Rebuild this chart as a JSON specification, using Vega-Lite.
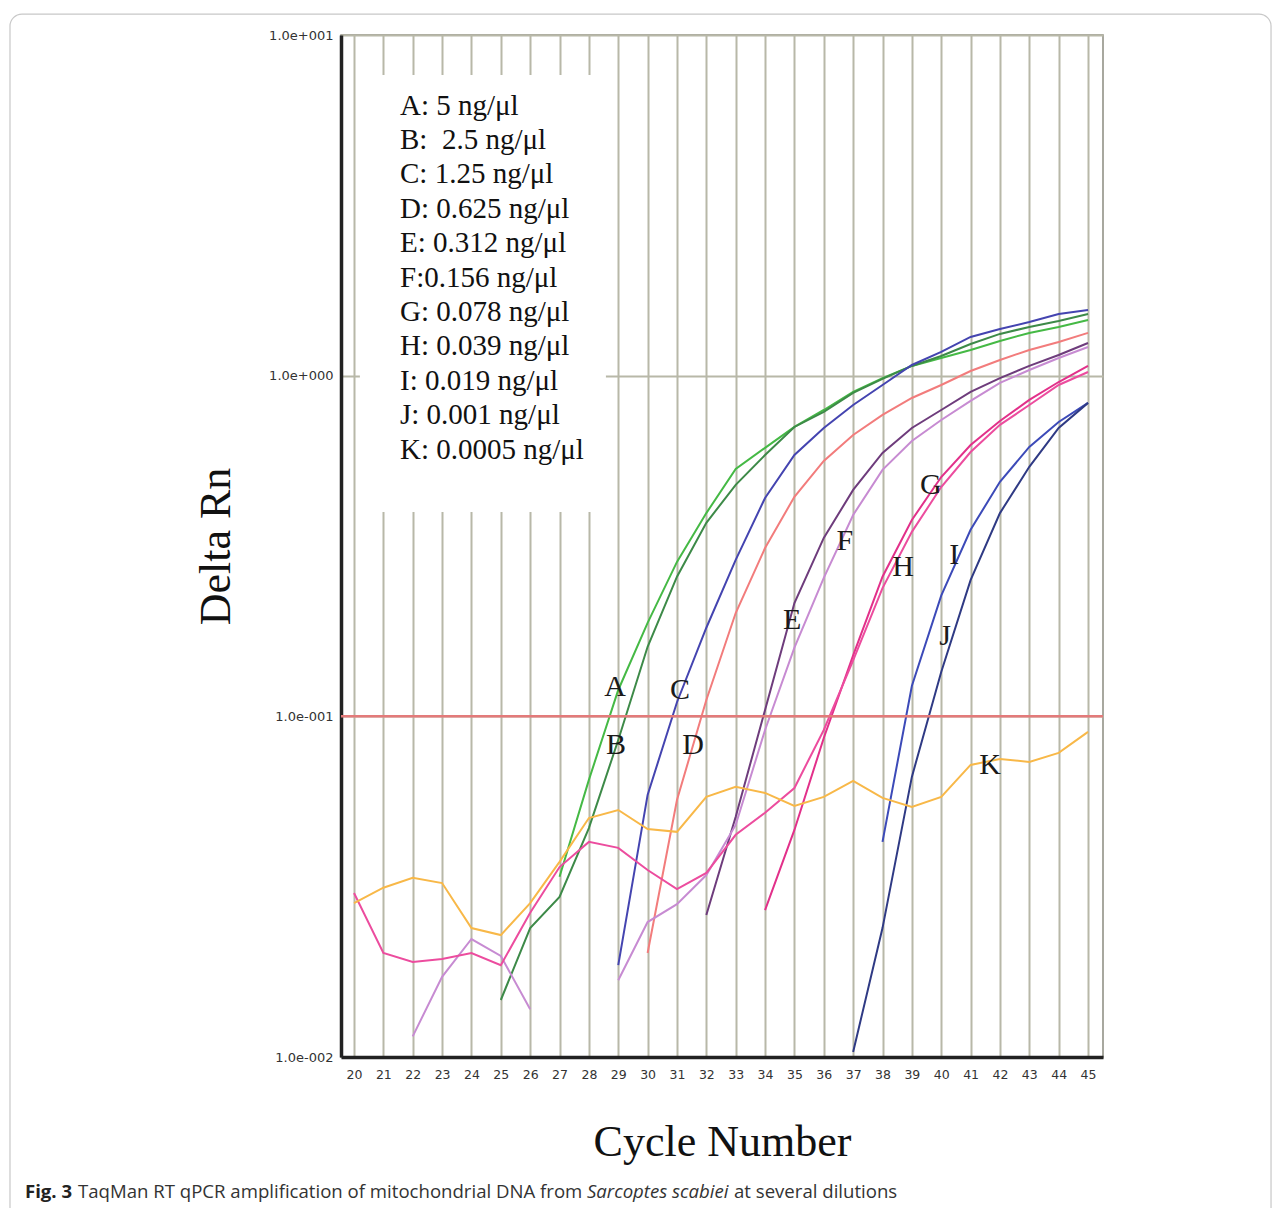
{
  "$schema": "https://vega.github.io/schema/vega-lite/v6.json",
  "width": 762,
  "height": 1022,
  "autosize": {"type": "none"},
  "padding": {"left": 341, "top": 35, "right": 178, "bottom": 151},
  "background": "white",
  "config": {
    "view": {"stroke": "#8c8c80", "strokeWidth": 1.5},
    "axis": {
      "grid": false, "gridColor": "#b8b8a8", "gridWidth": 2, "gridOpacity": 1,
      "ticks": false, "domainColor": "#222222", "domainWidth": 3.5,
      "labelFont": "DejaVu Sans", "labelColor": "#333333", "labelOverlap": false,
      "titleFont": "Liberation Serif", "titleFontSize": 44, "titleFontWeight": "normal", "titleColor": "#111111"
    },
    "axisX": {"labelFontSize": 12.5, "labelPadding": 11, "titlePadding": 40},
    "axisY": {"labelFontSize": 13, "labelPadding": 8, "titlePadding": 30}
  },
  "datasets": {
    "one": [{}],
    "samples": [
      {"s": "A", "label": "A: 5 ng/μl"},
      {"s": "B", "label": "B: \u00a02.5 ng/μl"},
      {"s": "C", "label": "C: 1.25 ng/μl"},
      {"s": "D", "label": "D: 0.625 ng/μl"},
      {"s": "E", "label": "E: 0.312 ng/μl"},
      {"s": "F", "label": "F:0.156 ng/μl"},
      {"s": "G", "label": "G: 0.078 ng/μl"},
      {"s": "H", "label": "H: 0.039 ng/μl"},
      {"s": "I", "label": "I: 0.019 ng/μl"},
      {"s": "J", "label": "J: 0.001 ng/μl"},
      {"s": "K", "label": "K: 0.0005 ng/μl"}
    ],
    "letters": [
      {"t": "A", "c": 28.89, "v": 0.122},
      {"t": "B", "c": 28.92, "v": 0.0824},
      {"t": "C", "c": 31.1, "v": 0.1195},
      {"t": "D", "c": 31.55, "v": 0.0824},
      {"t": "E", "c": 34.92, "v": 0.1918},
      {"t": "F", "c": 36.72, "v": 0.3272},
      {"t": "G", "c": 39.65, "v": 0.4778},
      {"t": "H", "c": 38.7, "v": 0.2745},
      {"t": "I", "c": 40.44, "v": 0.2977},
      {"t": "J", "c": 40.13, "v": 0.1722},
      {"t": "K", "c": 41.66, "v": 0.072}
    ],
    "curves": [
      {"s": "A", "g": "A", "c": 27, "v": 0.0338}, {"s": "A", "g": "A", "c": 28, "v": 0.0651}, {"s": "A", "g": "A", "c": 29, "v": 0.1195}, {"s": "A", "g": "A", "c": 30, "v": 0.188}, {"s": "A", "g": "A", "c": 31, "v": 0.284}, {"s": "A", "g": "A", "c": 32, "v": 0.395}, {"s": "A", "g": "A", "c": 33, "v": 0.532}, {"s": "A", "g": "A", "c": 34, "v": 0.614}, {"s": "A", "g": "A", "c": 35, "v": 0.707}, {"s": "A", "g": "A", "c": 36, "v": 0.793}, {"s": "A", "g": "A", "c": 37, "v": 0.896}, {"s": "A", "g": "A", "c": 38, "v": 0.984}, {"s": "A", "g": "A", "c": 39, "v": 1.068}, {"s": "A", "g": "A", "c": 40, "v": 1.127}, {"s": "A", "g": "A", "c": 41, "v": 1.19}, {"s": "A", "g": "A", "c": 42, "v": 1.264}, {"s": "A", "g": "A", "c": 43, "v": 1.335}, {"s": "A", "g": "A", "c": 44, "v": 1.39}, {"s": "A", "g": "A", "c": 45, "v": 1.457},
      {"s": "B", "g": "B", "c": 25, "v": 0.0147}, {"s": "B", "g": "B", "c": 26, "v": 0.0239}, {"s": "B", "g": "B", "c": 27, "v": 0.0295}, {"s": "B", "g": "B", "c": 28, "v": 0.047}, {"s": "B", "g": "B", "c": 29, "v": 0.0852}, {"s": "B", "g": "B", "c": 30, "v": 0.16}, {"s": "B", "g": "B", "c": 31, "v": 0.257}, {"s": "B", "g": "B", "c": 32, "v": 0.37}, {"s": "B", "g": "B", "c": 33, "v": 0.478}, {"s": "B", "g": "B", "c": 34, "v": 0.585}, {"s": "B", "g": "B", "c": 35, "v": 0.707}, {"s": "B", "g": "B", "c": 36, "v": 0.783}, {"s": "B", "g": "B", "c": 37, "v": 0.89}, {"s": "B", "g": "B", "c": 38, "v": 0.978}, {"s": "B", "g": "B", "c": 39, "v": 1.068}, {"s": "B", "g": "B", "c": 40, "v": 1.142}, {"s": "B", "g": "B", "c": 41, "v": 1.239}, {"s": "B", "g": "B", "c": 42, "v": 1.326}, {"s": "B", "g": "B", "c": 43, "v": 1.39}, {"s": "B", "g": "B", "c": 44, "v": 1.447}, {"s": "B", "g": "B", "c": 45, "v": 1.518},
      {"s": "C", "g": "C", "c": 29, "v": 0.0186}, {"s": "C", "g": "C", "c": 30, "v": 0.0588}, {"s": "C", "g": "C", "c": 31, "v": 0.11}, {"s": "C", "g": "C", "c": 32, "v": 0.182}, {"s": "C", "g": "C", "c": 33, "v": 0.288}, {"s": "C", "g": "C", "c": 34, "v": 0.4375}, {"s": "C", "g": "C", "c": 35, "v": 0.585}, {"s": "C", "g": "C", "c": 36, "v": 0.702}, {"s": "C", "g": "C", "c": 37, "v": 0.82}, {"s": "C", "g": "C", "c": 38, "v": 0.939}, {"s": "C", "g": "C", "c": 39, "v": 1.075}, {"s": "C", "g": "C", "c": 40, "v": 1.174}, {"s": "C", "g": "C", "c": 41, "v": 1.299}, {"s": "C", "g": "C", "c": 42, "v": 1.371}, {"s": "C", "g": "C", "c": 43, "v": 1.437}, {"s": "C", "g": "C", "c": 44, "v": 1.518}, {"s": "C", "g": "C", "c": 45, "v": 1.559},
      {"s": "D", "g": "D", "c": 30, "v": 0.0202}, {"s": "D", "g": "D", "c": 31, "v": 0.0568}, {"s": "D", "g": "D", "c": 32, "v": 0.1117}, {"s": "D", "g": "D", "c": 33, "v": 0.201}, {"s": "D", "g": "D", "c": 34, "v": 0.312}, {"s": "D", "g": "D", "c": 35, "v": 0.441}, {"s": "D", "g": "D", "c": 36, "v": 0.562}, {"s": "D", "g": "D", "c": 37, "v": 0.67}, {"s": "D", "g": "D", "c": 38, "v": 0.767}, {"s": "D", "g": "D", "c": 39, "v": 0.86}, {"s": "D", "g": "D", "c": 40, "v": 0.939}, {"s": "D", "g": "D", "c": 41, "v": 1.032}, {"s": "D", "g": "D", "c": 42, "v": 1.112}, {"s": "D", "g": "D", "c": 43, "v": 1.19}, {"s": "D", "g": "D", "c": 44, "v": 1.256}, {"s": "D", "g": "D", "c": 45, "v": 1.335},
      {"s": "E", "g": "E", "c": 32, "v": 0.0261}, {"s": "E", "g": "E", "c": 33, "v": 0.0507}, {"s": "E", "g": "E", "c": 34, "v": 0.1044}, {"s": "E", "g": "E", "c": 35, "v": 0.215}, {"s": "E", "g": "E", "c": 36, "v": 0.334}, {"s": "E", "g": "E", "c": 37, "v": 0.462}, {"s": "E", "g": "E", "c": 38, "v": 0.593}, {"s": "E", "g": "E", "c": 39, "v": 0.702}, {"s": "E", "g": "E", "c": 40, "v": 0.793}, {"s": "E", "g": "E", "c": 41, "v": 0.896}, {"s": "E", "g": "E", "c": 42, "v": 0.984}, {"s": "E", "g": "E", "c": 43, "v": 1.068}, {"s": "E", "g": "E", "c": 44, "v": 1.15}, {"s": "E", "g": "E", "c": 45, "v": 1.247},
      {"s": "F", "g": "F0", "c": 22, "v": 0.0115}, {"s": "F", "g": "F0", "c": 23, "v": 0.0172}, {"s": "F", "g": "F0", "c": 24, "v": 0.0222}, {"s": "F", "g": "F0", "c": 25, "v": 0.0198}, {"s": "F", "g": "F0", "c": 26, "v": 0.0138},
      {"s": "F", "g": "F", "c": 29, "v": 0.0168}, {"s": "F", "g": "F", "c": 30, "v": 0.0249}, {"s": "F", "g": "F", "c": 31, "v": 0.0281}, {"s": "F", "g": "F", "c": 32, "v": 0.0342}, {"s": "F", "g": "F", "c": 33, "v": 0.048}, {"s": "F", "g": "F", "c": 34, "v": 0.0912}, {"s": "F", "g": "F", "c": 35, "v": 0.159}, {"s": "F", "g": "F", "c": 36, "v": 0.255}, {"s": "F", "g": "F", "c": 37, "v": 0.39}, {"s": "F", "g": "F", "c": 38, "v": 0.529}, {"s": "F", "g": "F", "c": 39, "v": 0.643}, {"s": "F", "g": "F", "c": 40, "v": 0.741}, {"s": "F", "g": "F", "c": 41, "v": 0.843}, {"s": "F", "g": "F", "c": 42, "v": 0.952}, {"s": "F", "g": "F", "c": 43, "v": 1.039}, {"s": "F", "g": "F", "c": 44, "v": 1.127}, {"s": "F", "g": "F", "c": 45, "v": 1.214},
      {"s": "G", "g": "G", "c": 34, "v": 0.027}, {"s": "G", "g": "G", "c": 35, "v": 0.0464}, {"s": "G", "g": "G", "c": 36, "v": 0.0864}, {"s": "G", "g": "G", "c": 37, "v": 0.151}, {"s": "G", "g": "G", "c": 38, "v": 0.257}, {"s": "G", "g": "G", "c": 39, "v": 0.377}, {"s": "G", "g": "G", "c": 40, "v": 0.504}, {"s": "G", "g": "G", "c": 41, "v": 0.626}, {"s": "G", "g": "G", "c": 42, "v": 0.736}, {"s": "G", "g": "G", "c": 43, "v": 0.849}, {"s": "G", "g": "G", "c": 44, "v": 0.958}, {"s": "G", "g": "G", "c": 45, "v": 1.068},
      {"s": "H", "g": "H", "c": 20, "v": 0.0303}, {"s": "H", "g": "H", "c": 21, "v": 0.0202}, {"s": "H", "g": "H", "c": 22, "v": 0.019}, {"s": "H", "g": "H", "c": 23, "v": 0.0194}, {"s": "H", "g": "H", "c": 24, "v": 0.0202}, {"s": "H", "g": "H", "c": 25, "v": 0.0186}, {"s": "H", "g": "H", "c": 26, "v": 0.0265}, {"s": "H", "g": "H", "c": 27, "v": 0.0361}, {"s": "H", "g": "H", "c": 28, "v": 0.0428}, {"s": "H", "g": "H", "c": 29, "v": 0.0411}, {"s": "H", "g": "H", "c": 30, "v": 0.0354}, {"s": "H", "g": "H", "c": 31, "v": 0.0311}, {"s": "H", "g": "H", "c": 32, "v": 0.0347}, {"s": "H", "g": "H", "c": 33, "v": 0.0449}, {"s": "H", "g": "H", "c": 34, "v": 0.0521}, {"s": "H", "g": "H", "c": 35, "v": 0.0616}, {"s": "H", "g": "H", "c": 36, "v": 0.0912}, {"s": "H", "g": "H", "c": 37, "v": 0.146}, {"s": "H", "g": "H", "c": 38, "v": 0.238}, {"s": "H", "g": "H", "c": 39, "v": 0.348}, {"s": "H", "g": "H", "c": 40, "v": 0.471}, {"s": "H", "g": "H", "c": 41, "v": 0.597}, {"s": "H", "g": "H", "c": 42, "v": 0.717}, {"s": "H", "g": "H", "c": 43, "v": 0.82}, {"s": "H", "g": "H", "c": 44, "v": 0.939}, {"s": "H", "g": "H", "c": 45, "v": 1.025},
      {"s": "I", "g": "I", "c": 38, "v": 0.0428}, {"s": "I", "g": "I", "c": 39, "v": 0.1228}, {"s": "I", "g": "I", "c": 40, "v": 0.226}, {"s": "I", "g": "I", "c": 41, "v": 0.353}, {"s": "I", "g": "I", "c": 42, "v": 0.488}, {"s": "I", "g": "I", "c": 43, "v": 0.618}, {"s": "I", "g": "I", "c": 44, "v": 0.731}, {"s": "I", "g": "I", "c": 45, "v": 0.832},
      {"s": "J", "g": "J", "c": 37, "v": 0.01035}, {"s": "J", "g": "J", "c": 38, "v": 0.0239}, {"s": "J", "g": "J", "c": 39, "v": 0.0664}, {"s": "J", "g": "J", "c": 40, "v": 0.135}, {"s": "J", "g": "J", "c": 41, "v": 0.251}, {"s": "J", "g": "J", "c": 42, "v": 0.395}, {"s": "J", "g": "J", "c": 43, "v": 0.54}, {"s": "J", "g": "J", "c": 44, "v": 0.702}, {"s": "J", "g": "J", "c": 45, "v": 0.832},
      {"s": "K", "g": "K", "c": 20, "v": 0.0283}, {"s": "K", "g": "K", "c": 21, "v": 0.0314}, {"s": "K", "g": "K", "c": 22, "v": 0.0336}, {"s": "K", "g": "K", "c": 23, "v": 0.0324}, {"s": "K", "g": "K", "c": 24, "v": 0.0239}, {"s": "K", "g": "K", "c": 25, "v": 0.0228}, {"s": "K", "g": "K", "c": 26, "v": 0.0283}, {"s": "K", "g": "K", "c": 27, "v": 0.0374}, {"s": "K", "g": "K", "c": 28, "v": 0.0503}, {"s": "K", "g": "K", "c": 29, "v": 0.0531}, {"s": "K", "g": "K", "c": 30, "v": 0.0467}, {"s": "K", "g": "K", "c": 31, "v": 0.0458}, {"s": "K", "g": "K", "c": 32, "v": 0.058}, {"s": "K", "g": "K", "c": 33, "v": 0.0621}, {"s": "K", "g": "K", "c": 34, "v": 0.0596}, {"s": "K", "g": "K", "c": 35, "v": 0.0546}, {"s": "K", "g": "K", "c": 36, "v": 0.058}, {"s": "K", "g": "K", "c": 37, "v": 0.0646}, {"s": "K", "g": "K", "c": 38, "v": 0.0576}, {"s": "K", "g": "K", "c": 39, "v": 0.0542}, {"s": "K", "g": "K", "c": 40, "v": 0.058}, {"s": "K", "g": "K", "c": 41, "v": 0.072}, {"s": "K", "g": "K", "c": 42, "v": 0.075}, {"s": "K", "g": "K", "c": 43, "v": 0.0735}, {"s": "K", "g": "K", "c": 44, "v": 0.0781}, {"s": "K", "g": "K", "c": 45, "v": 0.09}
    ]
  },
  "layer": [
    {
      "data": {"name": "curves"},
      "transform": [
        {"lookup": "s", "from": {"data": {"name": "samples"}, "key": "s", "fields": ["label"]}}
      ],
      "mark": {"type": "line", "strokeWidth": 2, "clip": true},
      "encoding": {
        "x": {"field": "c", "type": "quantitative", "scale": {"domain": [19.557, 45.51], "nice": false, "zero": false},
          "axis": {"values": [20, 21, 22, 23, 24, 25, 26, 27, 28, 29, 30, 31, 32, 33, 34, 35, 36, 37, 38, 39, 40, 41, 42, 43, 44, 45], "labelOverlap": false, "grid": true, "title": "Cycle Number"}},
        "y": {"field": "v", "type": "quantitative", "scale": {"type": "log", "domain": [0.01, 10], "nice": false, "zero": false},
          "axis": {"values": [0.01, 0.1, 1, 10], "labelOverlap": false, "grid": true, "labelExpr": "datum.value >= 5 ? '1.0e+001' : datum.value >= 0.5 ? '1.0e+000' : datum.value >= 0.05 ? '1.0e-001' : '1.0e-002'", "title": "Delta Rn"}},
        "color": {
          "field": "label", "type": "nominal",
          "scale": {
            "domain": ["A: 5 ng/μl", "B: \u00a02.5 ng/μl", "C: 1.25 ng/μl", "D: 0.625 ng/μl", "E: 0.312 ng/μl", "F:0.156 ng/μl", "G: 0.078 ng/μl", "H: 0.039 ng/μl", "I: 0.019 ng/μl", "J: 0.001 ng/μl", "K: 0.0005 ng/μl"],
            "range": ["#45b945", "#3d8a48", "#4444b0", "#f27c7c", "#6e3c7c", "#c78bd2", "#e2308a", "#ec4c9e", "#3c4ab8", "#2f3a84", "#f8b848"]
          },
          "legend": {
            "orient": "none", "legendX": 30, "legendY": 56, "title": null,
            "labelFont": "Liberation Serif", "labelFontSize": 29, "labelColor": "#111111",
            "rowPadding": 4.4, "symbolSize": 0, "symbolOpacity": 0, "symbolStrokeWidth": 0,
            "labelOffset": 0, "labelLimit": 600, "padding": 0
          }
        },
        "detail": {"field": "g"},
        "order": {"field": "c", "type": "quantitative"}
      }
    },
    {
      "data": {"name": "one"},
      "mark": {"type": "rect", "fill": "white", "stroke": null},
      "encoding": {
        "x": {"datum": 20.2, "type": "quantitative", "scale": {"domain": [19.557, 45.51], "nice": false, "zero": false},
          "axis": {"values": [20, 21, 22, 23, 24, 25, 26, 27, 28, 29, 30, 31, 32, 33, 34, 35, 36, 37, 38, 39, 40, 41, 42, 43, 44, 45], "labelOverlap": false, "title": "Cycle Number"}},
        "x2": {"datum": 28.58},
        "y": {"datum": 7.63, "type": "quantitative", "scale": {"type": "log", "domain": [0.01, 10], "nice": false, "zero": false},
          "axis": {"values": [0.01, 0.1, 1, 10], "labelOverlap": false, "labelExpr": "datum.value >= 5 ? '1.0e+001' : datum.value >= 0.5 ? '1.0e+000' : datum.value >= 0.05 ? '1.0e-001' : '1.0e-002'", "title": "Delta Rn"}},
        "y2": {"datum": 0.398}
      }
    },
    {
      "data": {"name": "one"},
      "mark": {"type": "rule", "color": "#e37a7a", "strokeWidth": 2.5},
      "encoding": {
        "y": {"datum": 0.1, "type": "quantitative", "scale": {"type": "log", "domain": [0.01, 10], "nice": false, "zero": false},
          "axis": {"values": [0.01, 0.1, 1, 10], "labelOverlap": false, "labelExpr": "datum.value >= 5 ? '1.0e+001' : datum.value >= 0.5 ? '1.0e+000' : datum.value >= 0.05 ? '1.0e-001' : '1.0e-002'", "title": "Delta Rn"}}
      }
    },
    {
      "data": {"name": "one"},
      "mark": {"type": "rect", "fill": null, "filled": false, "stroke": "#c8c8c8", "strokeWidth": 1.2, "cornerRadius": 12},
      "encoding": {
        "x": {"datum": 8.283, "type": "quantitative", "scale": {"domain": [19.557, 45.51], "nice": false, "zero": false},
          "axis": {"values": [20, 21, 22, 23, 24, 25, 26, 27, 28, 29, 30, 31, 32, 33, 34, 35, 36, 37, 38, 39, 40, 41, 42, 43, 44, 45], "labelOverlap": false, "title": "Cycle Number"}},
        "x2": {"datum": 51.233},
        "y": {"datum": 11.52, "type": "quantitative", "scale": {"type": "log", "domain": [0.01, 10], "nice": false, "zero": false},
          "axis": {"values": [0.01, 0.1, 1, 10], "labelOverlap": false, "labelExpr": "datum.value >= 5 ? '1.0e+001' : datum.value >= 0.5 ? '1.0e+000' : datum.value >= 0.05 ? '1.0e-001' : '1.0e-002'", "title": "Delta Rn"}},
        "y2": {"datum": 0.00311}
      }
    },
    {
      "data": {"name": "letters"},
      "mark": {"type": "text", "font": "Liberation Serif", "fontSize": 30, "align": "center", "baseline": "middle", "color": "#1a1a1a"},
      "encoding": {
        "x": {"field": "c", "type": "quantitative", "scale": {"domain": [19.557, 45.51], "nice": false, "zero": false},
          "axis": {"values": [20, 21, 22, 23, 24, 25, 26, 27, 28, 29, 30, 31, 32, 33, 34, 35, 36, 37, 38, 39, 40, 41, 42, 43, 44, 45], "labelOverlap": false, "title": "Cycle Number"}},
        "y": {"field": "v", "type": "quantitative", "scale": {"type": "log", "domain": [0.01, 10], "nice": false, "zero": false},
          "axis": {"values": [0.01, 0.1, 1, 10], "labelOverlap": false, "labelExpr": "datum.value >= 5 ? '1.0e+001' : datum.value >= 0.5 ? '1.0e+000' : datum.value >= 0.05 ? '1.0e-001' : '1.0e-002'", "title": "Delta Rn"}},
        "text": {"field": "t"}
      }
    },
    {
      "data": {"name": "one"},
      "mark": {"type": "text", "text": "Fig. 3", "font": "Open Sans", "fontSize": 18.6, "fontWeight": "bold", "align": "left", "baseline": "middle", "color": "#222222"},
      "encoding": {
        "x": {"datum": 8.794, "type": "quantitative", "scale": {"domain": [19.557, 45.51], "nice": false, "zero": false},
          "axis": {"values": [20, 21, 22, 23, 24, 25, 26, 27, 28, 29, 30, 31, 32, 33, 34, 35, 36, 37, 38, 39, 40, 41, 42, 43, 44, 45], "labelOverlap": false, "title": "Cycle Number"}},
        "y": {"datum": 0.004018, "type": "quantitative", "scale": {"type": "log", "domain": [0.01, 10], "nice": false, "zero": false},
          "axis": {"values": [0.01, 0.1, 1, 10], "labelOverlap": false, "labelExpr": "datum.value >= 5 ? '1.0e+001' : datum.value >= 0.5 ? '1.0e+000' : datum.value >= 0.05 ? '1.0e-001' : '1.0e-002'", "title": "Delta Rn"}}
      }
    },
    {
      "data": {"name": "one"},
      "mark": {"type": "text", "text": "TaqMan RT qPCR amplification of mitochondrial DNA from", "font": "Open Sans", "fontSize": 18.6, "align": "left", "baseline": "middle", "color": "#333333", "dx": 53},
      "encoding": {
        "x": {"datum": 8.794, "type": "quantitative", "scale": {"domain": [19.557, 45.51], "nice": false, "zero": false},
          "axis": {"values": [20, 21, 22, 23, 24, 25, 26, 27, 28, 29, 30, 31, 32, 33, 34, 35, 36, 37, 38, 39, 40, 41, 42, 43, 44, 45], "labelOverlap": false, "title": "Cycle Number"}},
        "y": {"datum": 0.004018, "type": "quantitative", "scale": {"type": "log", "domain": [0.01, 10], "nice": false, "zero": false},
          "axis": {"values": [0.01, 0.1, 1, 10], "labelOverlap": false, "labelExpr": "datum.value >= 5 ? '1.0e+001' : datum.value >= 0.5 ? '1.0e+000' : datum.value >= 0.05 ? '1.0e-001' : '1.0e-002'", "title": "Delta Rn"}}
      }
    },
    {
      "data": {"name": "one"},
      "mark": {"type": "text", "text": "Sarcoptes scabiei", "font": "Open Sans", "fontSize": 18.6, "fontStyle": "italic", "align": "left", "baseline": "middle", "color": "#333333", "dx": 562},
      "encoding": {
        "x": {"datum": 8.794, "type": "quantitative", "scale": {"domain": [19.557, 45.51], "nice": false, "zero": false},
          "axis": {"values": [20, 21, 22, 23, 24, 25, 26, 27, 28, 29, 30, 31, 32, 33, 34, 35, 36, 37, 38, 39, 40, 41, 42, 43, 44, 45], "labelOverlap": false, "title": "Cycle Number"}},
        "y": {"datum": 0.004018, "type": "quantitative", "scale": {"type": "log", "domain": [0.01, 10], "nice": false, "zero": false},
          "axis": {"values": [0.01, 0.1, 1, 10], "labelOverlap": false, "labelExpr": "datum.value >= 5 ? '1.0e+001' : datum.value >= 0.5 ? '1.0e+000' : datum.value >= 0.05 ? '1.0e-001' : '1.0e-002'", "title": "Delta Rn"}}
      }
    },
    {
      "data": {"name": "one"},
      "mark": {"type": "text", "text": "at several dilutions", "font": "Open Sans", "fontSize": 18.6, "align": "left", "baseline": "middle", "color": "#333333", "dx": 709},
      "encoding": {
        "x": {"datum": 8.794, "type": "quantitative", "scale": {"domain": [19.557, 45.51], "nice": false, "zero": false},
          "axis": {"values": [20, 21, 22, 23, 24, 25, 26, 27, 28, 29, 30, 31, 32, 33, 34, 35, 36, 37, 38, 39, 40, 41, 42, 43, 44, 45], "labelOverlap": false, "title": "Cycle Number"}},
        "y": {"datum": 0.004018, "type": "quantitative", "scale": {"type": "log", "domain": [0.01, 10], "nice": false, "zero": false},
          "axis": {"values": [0.01, 0.1, 1, 10], "labelOverlap": false, "labelExpr": "datum.value >= 5 ? '1.0e+001' : datum.value >= 0.5 ? '1.0e+000' : datum.value >= 0.05 ? '1.0e-001' : '1.0e-002'", "title": "Delta Rn"}}
      }
    }
  ]
}
